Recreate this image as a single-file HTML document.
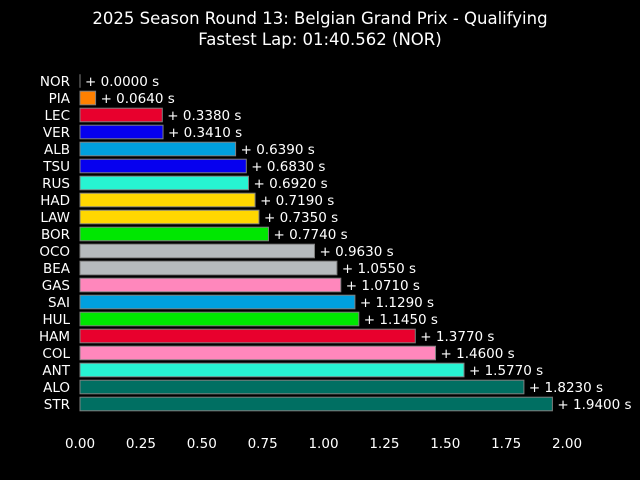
<!DOCTYPE html>
<html><head><meta charset="utf-8"><style>
body{margin:0;background:#000;}
svg{display:block;font-family:"DejaVu Sans","Liberation Sans",sans-serif;}
</style></head><body>
<svg id="chart" width="640" height="480" xmlns="http://www.w3.org/2000/svg">
<rect width="640" height="480" fill="#000"/>
<text x="320" y="24" fill="#fff" font-size="16.5" text-anchor="middle">2025 Season Round 13: Belgian Grand Prix - Qualifying</text>
<text x="320" y="45" fill="#fff" font-size="16.5" text-anchor="middle">Fastest Lap: 01:40.562 (NOR)</text>
<g id="bars"></g>
<g id="xticks"></g>
</svg>
<script>
const drivers=["NOR","PIA","LEC","VER","ALB","TSU","RUS","HAD","LAW","BOR","OCO","BEA","GAS","SAI","HUL","HAM","COL","ANT","ALO","STR"];
const gaps=[0,0.064,0.338,0.341,0.639,0.683,0.692,0.719,0.735,0.774,0.963,1.055,1.071,1.129,1.145,1.377,1.46,1.577,1.823,1.94];
const colors=["#ff8000","#ff8000","#e8002d","#0600ef","#00a0de","#0600ef","#27f4d2","#ffd700","#ffd700","#00e701","#b6babd","#b6babd","#ff87bc","#00a0de","#00e701","#e8002d","#ff87bc","#27f4d2","#006f62","#006f62"];
const xTicks=[0,0.25,0.5,0.75,1,1.25,1.5,1.75,2];
const NS="http://www.w3.org/2000/svg";
const x=v=>80+v*243.5;
const y=i=>81+i*17;
const bars=document.getElementById('bars');
drivers.forEach((d,i)=>{
  const w=x(gaps[i])-x(0);
  if(w<1){
    const ln=document.createElementNS(NS,'line');
    
    
    ln.setAttribute('x1',x(gaps[i]));ln.setAttribute('x2',x(gaps[i]));ln.setAttribute('y1',y(i)-6.8);ln.setAttribute('y2',y(i)+6.8);
    ln.setAttribute('stroke','#808080');ln.setAttribute('stroke-width','1');
    bars.appendChild(ln);
  } else {
    const r=document.createElementNS(NS,'rect');
    
    
    r.setAttribute('x',x(0));r.setAttribute('y',y(i)-6.8);
    r.setAttribute('width',w);r.setAttribute('height',13.6);
    r.setAttribute('fill',colors[i]);r.setAttribute('stroke','#808080');r.setAttribute('stroke-width','1');
    bars.appendChild(r);
  }
  const l=document.createElementNS(NS,'text');
  
  
  l.setAttribute('x',70);l.setAttribute('y',y(i)+5);l.setAttribute('fill','#fff');l.setAttribute('font-size','13.5');l.setAttribute('text-anchor','end');
  l.textContent=d;bars.appendChild(l);
  const v=document.createElementNS(NS,'text');
  
  
  v.setAttribute('x',x(gaps[i])+5);v.setAttribute('y',y(i)+5);v.setAttribute('fill','#fff');v.setAttribute('font-size','13.5');
  v.textContent='+ '+gaps[i].toFixed(4)+' s';bars.appendChild(v);
});
const xt=document.getElementById('xticks');
xTicks.forEach(t=>{
  const e=document.createElementNS(NS,'text');
  
  
  e.setAttribute('x',x(t));e.setAttribute('y',448);e.setAttribute('fill','#fff');e.setAttribute('font-size','13.5');e.setAttribute('text-anchor','middle');
  e.textContent=t.toFixed(2);xt.appendChild(e);
});
</script>
</body></html>
